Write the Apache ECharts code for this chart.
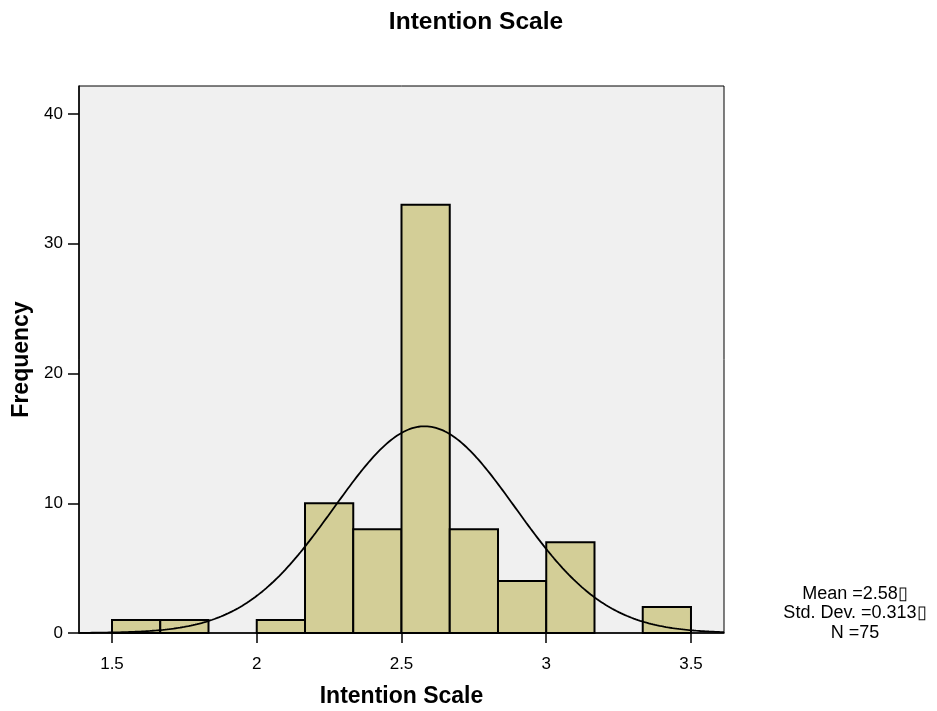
<!DOCTYPE html>
<html>
<head>
<meta charset="utf-8">
<script src="https://cdn.jsdelivr.net/npm/echarts@6/dist/echarts.min.js"></script>
<style>
  html, body { margin: 0; padding: 0; background: #ffffff; }
  #chart { width: 937px; height: 711px; }
</style>
</head>
<body>
<div id="chart"></div>
<script>
// Histogram of the Intention Scale, with a fitted normal curve
const binStarts = [1.5, 1.6667, 1.8333, 2.0, 2.1667, 2.3333, 2.5, 2.6667, 2.8333, 3.0, 3.1667, 3.3333];
const binWidth = 1 / 6;
const counts = [1, 1, 0, 1, 10, 8, 33, 8, 4, 7, 0, 2];
const xTicks = [1.5, 2, 2.5, 3, 3.5];
const yTicks = [0, 10, 20, 30, 40];
const statMean = 2.58;
const statSd = 0.313;
const statN = 75;

const xMin = 1.386, xMax = 3.614;
const yMax = 42.16;

// Normal density scaled to the histogram (N * bin width * pdf)
function normalCurve(x) {
  const z = (x - statMean) / statSd;
  return statN * binWidth * Math.exp(-0.5 * z * z) / (statSd * Math.sqrt(2 * Math.PI));
}
const curvePts = [];
for (let i = 0; i <= 300; i++) {
  const x = xMin + (xMax - xMin) * i / 300;
  curvePts.push([x, normalCurve(x)]);
}

const barData = binStarts.map((s, i) => [s, s + binWidth, counts[i]]);

const chart = echarts.init(document.getElementById('chart'));
const font = 'Liberation Sans, Arial, sans-serif';

chart.setOption({
  animation: false,
  grid: {
    left: 79, right: 213, top: 86, bottom: 78,
    outerBoundsMode: 'none', containLabel: false,
    show: true, backgroundColor: '#f0f0f0', borderColor: '#000', borderWidth: 1
  },
  xAxis: {
    type: 'value', min: xMin, max: xMax,
    name: 'Intention Scale', nameLocation: 'middle', nameGap: 52,
    nameTextStyle: { fontFamily: font, fontSize: 23, fontWeight: 'bold', color: '#000' },
    axisLine: { show: true, lineStyle: { color: '#000', width: 1.5 } },
    axisTick: { show: true, length: 10, customValues: xTicks, lineStyle: { color: '#000', width: 1.5 } },
    axisLabel: { customValues: xTicks, margin: 23, fontFamily: font, fontSize: 17, color: '#000' },
    splitLine: { show: false }
  },
  yAxis: {
    type: 'value', min: 0, max: yMax,
    name: 'Frequency', nameLocation: 'middle', nameGap: 45, nameRotate: 90,
    nameTextStyle: { fontFamily: font, fontSize: 23, fontWeight: 'bold', color: '#000' },
    axisLine: { show: true, lineStyle: { color: '#000', width: 1.5 } },
    axisTick: { show: true, length: 11, customValues: yTicks, lineStyle: { color: '#000', width: 1.5 } },
    axisLabel: { customValues: yTicks, margin: 16, fontFamily: font, fontSize: 17, color: '#000' },
    splitLine: { show: false }
  },
  series: [
    {
      type: 'custom',
      data: barData,
      renderItem: function (params, api) {
        const p0 = api.coord([api.value(0), 0]);
        const p1 = api.coord([api.value(1), api.value(2)]);
        if (api.value(2) <= 0) return null;
        return {
          type: 'rect',
          shape: { x: p0[0], y: p1[1], width: p1[0] - p0[0], height: p0[1] - p1[1] },
          style: { fill: '#d3ce97', stroke: '#000', lineWidth: 2 }
        };
      },
      z: 2
    },
    {
      type: 'line',
      data: curvePts,
      showSymbol: false,
      lineStyle: { color: '#000', width: 1.8 },
      z: 3
    }
  ],
  graphic: [
    {
      type: 'text', x: 476, y: 10,
      style: {
        text: 'Intention Scale', align: 'center', verticalAlign: 'top',
        font: 'bold 24.5px Liberation Sans, Arial, sans-serif', fill: '#000'
      }
    },
    {
      type: 'text', x: 855, y: 584,
      style: {
        text: 'Mean =' + statMean + '\u25AF\nStd. Dev. =' + statSd + '\u25AF\nN =' + statN,
        align: 'center', verticalAlign: 'top',
        font: '18px Liberation Sans, Arial, sans-serif', fill: '#000', lineHeight: 19.5
      }
    }
  ]
});
</script>
</body>
</html>
